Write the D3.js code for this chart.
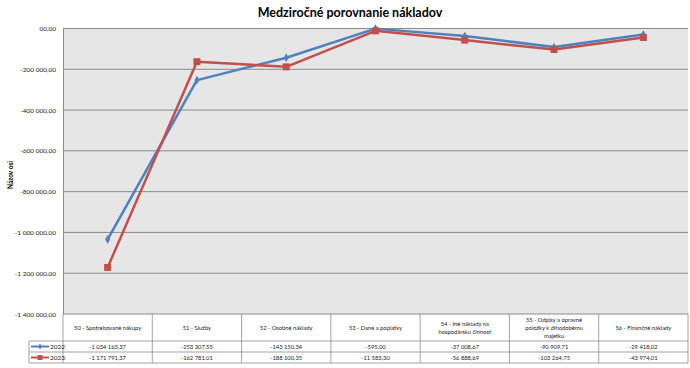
<!DOCTYPE html>
<html><head><meta charset="utf-8">
<script src="https://cdn.jsdelivr.net/npm/d3@7"></script>
<style>body{margin:0;background:#fff;}svg{display:block;font-family:Lato,"Open Sans",sans-serif;}</style>
</head><body>
<svg id="c" width="690" height="368"></svg>
<script>
const categories = [
  ["50 - Spotrebované nákupy"],
  ["51 - Služby"],
  ["52 - Osobné náklady"],
  ["53 - Dane a poplatky"],
  ["54 - Iné náklady na", "hospodársku činnosť"],
  ["55 - Odpisy a opravné", "položky k dlhodobému", "majetku"],
  ["56 - Finančné náklady"]
];
const seriesNames = ["2022", "2023"];
const values2022 = [-1034163.37, -253307.55, -143150.34, -595.00, -37008.67, -90909.71, -29418.02];
const values2023 = [-1171791.37, -162781.01, -188100.35, -11583.30, -56888.69, -103264.75, -43974.01];
const labels2022 = ["-1 034 163,37", "-253 307,55", "-143 150,34", "-595,00", "-37 008,67", "-90 909,71", "-29 418,02"];
const labels2023 = ["-1 171 791,37", "-162 781,01", "-188 100,35", "-11 583,30", "-56 888,69", "-103 264,75", "-43 974,01"];
const yTicks = [0, -200000, -400000, -600000, -800000, -1000000, -1200000, -1400000];
const yTickLabels = ["00,00", "-200 000,00", "-400 000,00", "-600 000,00", "-800 000,00", "-1 000 000,00", "-1 200 000,00", "-1 400 000,00"];
const colors = ["#4f81bd", "#c0504d"];

const svg = d3.select("#c");
const L = 63, R = 688, T = 28.5, B = 314;
const x = d3.scaleBand().domain(d3.range(categories.length)).range([L, R]).padding(0);
const y = d3.scaleLinear().domain([-1400000, 0]).range([B, T]);

svg.append("text").attr("x", 350).attr("y", 17).attr("text-anchor", "middle")
  .attr("font-size", 12.5).attr("font-weight", "bold").attr("fill", "#000").text("Medziročné porovnanie nákladov");

svg.append("rect").attr("x", L).attr("y", T).attr("width", R - L).attr("height", B - T).attr("fill", "#e6e6e6");

// gridlines
svg.append("g").selectAll("line").data(yTicks).join("line")
  .attr("x1", L).attr("x2", R).attr("y1", d => y(d)).attr("y2", d => y(d))
  .attr("stroke", "#8c8c8c").attr("stroke-width", 1);

// y axis
const yAxis = d3.axisLeft(y).tickValues(yTicks).tickSize(0).tickPadding(7)
  .tickFormat((d, i) => yTickLabels[i]);
const ga = svg.append("g").attr("transform", `translate(${L},0)`).call(yAxis);
ga.select(".domain").attr("stroke", "#8c8c8c");
ga.selectAll("text").attr("font-size", 6.5).attr("fill", "#222").attr("font-family", "Lato, sans-serif");

svg.append("text").attr("transform", "translate(13,175) rotate(-90)").attr("text-anchor", "middle")
  .attr("font-size", 6.5).attr("font-weight", "bold").text("Názov osi");

// lines
const line = d3.line().x((d, i) => x(i) + x.bandwidth() / 2).y(d => y(d));
[values2022, values2023].forEach((vals, s) => {
  svg.append("path").datum(vals).attr("d", line).attr("fill", "none")
    .attr("stroke", colors[s]).attr("stroke-width", 2.5).attr("stroke-linejoin", "round");
});
// markers
svg.append("g").selectAll("path").data(values2022).join("path")
  .attr("d", d3.symbol().type(d3.symbolDiamond).size(22))
  .attr("transform", (d, i) => `translate(${x(i) + x.bandwidth() / 2},${y(d)})`).attr("fill", colors[0]);
svg.append("g").selectAll("rect").data(values2023).join("rect")
  .attr("x", (d, i) => x(i) + x.bandwidth() / 2 - 3.5).attr("y", d => y(d) - 3.5)
  .attr("width", 7).attr("height", 7).attr("fill", colors[1]);

// data table
const tb = svg.append("g");
const rowH1 = 341, rowH2 = 352, rowH3 = 363, legL = 29;
const bc = "#8c8c8c";
// header verticals
x.domain().forEach(i => {
  tb.append("line").attr("x1", x(i)).attr("x2", x(i)).attr("y1", B).attr("y2", rowH3).attr("stroke", bc).attr("stroke-width", 0.8);
});
tb.append("line").attr("x1", R).attr("x2", R).attr("y1", B).attr("y2", rowH3).attr("stroke", bc).attr("stroke-width", 0.8);
[rowH1, rowH2, rowH3].forEach(yy => {
  tb.append("line").attr("x1", legL).attr("x2", R).attr("y1", yy).attr("y2", yy).attr("stroke", bc).attr("stroke-width", 0.8);
});
tb.append("line").attr("x1", legL).attr("x2", legL).attr("y1", rowH1).attr("y2", rowH3).attr("stroke", bc).attr("stroke-width", 0.8);

categories.forEach((lines, i) => {
  const cx = x(i) + x.bandwidth() / 2;
  const n = lines.length;
  const cy = (B + rowH1) / 2;
  lines.forEach((t, k) => {
    tb.append("text").attr("x", cx).attr("y", cy + (k - (n - 1) / 2) * 8 + 2)
      .attr("text-anchor", "middle").attr("font-size", 5.8).attr("fill", "#222").text(t);
  });
});
[labels2022, labels2023].forEach((labs, s) => {
  const yy = s === 0 ? (rowH1 + rowH2) / 2 + 2 : (rowH2 + rowH3) / 2 + 2;
  labs.forEach((t, i) => {
    tb.append("text").attr("x", x(i) + x.bandwidth() / 2).attr("y", yy).attr("text-anchor", "middle")
      .attr("font-size", 5.8).attr("fill", "#222").text(t);
  });
  // legend key
  const ly = s === 0 ? (rowH1 + rowH2) / 2 : (rowH2 + rowH3) / 2;
  tb.append("line").attr("x1", 31).attr("x2", 49).attr("y1", ly).attr("y2", ly).attr("stroke", colors[s]).attr("stroke-width", 2);
  if (s === 0) {
    tb.append("path").attr("d", d3.symbol().type(d3.symbolDiamond).size(12)).attr("transform", `translate(40,${ly})`).attr("fill", colors[0]);
  } else {
    tb.append("rect").attr("x", 37.5).attr("y", ly - 2.5).attr("width", 5).attr("height", 5).attr("fill", colors[1]);
  }
  tb.append("text").attr("x", 50).attr("y", ly + 2.3).attr("font-size", 6.5).attr("fill", "#222").text(seriesNames[s]);
});
</script>
</body></html>
